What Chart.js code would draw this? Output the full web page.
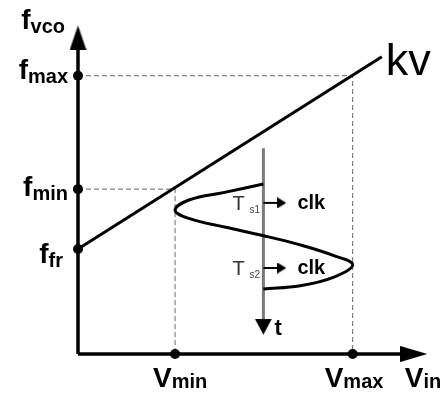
<!DOCTYPE html>
<html>
<head>
<meta charset="utf-8">
<script src="https://cdn.jsdelivr.net/npm/chart.js@4.4.1/dist/chart.umd.min.js"></script>
<style>
  html, body { margin: 0; padding: 0; background: #fff; }
  #wrap { width: 442px; height: 398px; }
</style>
</head>
<body>
<div id="wrap"><canvas id="vco"></canvas></div>
<script>
// frequency axis marks (f_vco, arbitrary units)
const fNames = ['max', 'min', 'fr'];
const fValues = [2.65, 1.57, 1.0];

// input voltage axis marks
const vNames = ['min', 'max'];
const vValues = [1.0, 2.83];

// tuning line, start and end
const kvV = [0, 3.13];
const kvF = [1.0, 2.83];

// input swing over one period: v against time
const swingT = [0, 0.08, 0.15, 0.25, 0.33, 0.41, 0.49, 0.58, 0.68, 0.77, 0.89, 0.97, 1.0];
const swingV = [1.91, 1.51, 1.15, 1.0, 1.15, 1.51, 1.90, 2.29, 2.63, 2.83, 2.63, 2.29, 1.91];

// sampling instants on the time axis
const sampleNames = ['s1', 's2'];
const sampleT = [0.18, 0.80];

// axis ends (centre of each arrow head)
const fAxisTop = 3.01;
const vAxisEnd = 3.46;
const tAxisV = 1.91;
const tAxisStart = -0.34;
const tAxisEnd = 1.36;
const clkArrowEnd = 2.10;

function arrowHead(w, h) {
  const c = document.createElement('canvas');
  c.width = w;
  c.height = h;
  const g = c.getContext('2d');
  g.fillStyle = '#000';
  g.beginPath();
  g.moveTo(w / 2, 0);
  g.lineTo(w, h);
  g.lineTo(0, h);
  g.closePath();
  g.fill();
  return c;
}

const upArrow = arrowHead(17, 25);
const rightArrow = arrowHead(16, 27);
const downArrow = arrowHead(17, 16);
const clkArrow = arrowHead(11, 9);

const lastPoint = (ctx) => (ctx.dataIndex === 1 ? 1 : 0);

function path(data, extra) {
  return Object.assign({
    data: data,
    showLine: true,
    pointRadius: 0,
    borderColor: '#000',
    borderWidth: 3,
    fill: false,
    clip: false
  }, extra);
}

const datasets = [];

// dots on the axes
datasets.push({
  data: fValues.map((f) => ({ x: 0, y: f })),
  pointRadius: 5,
  pointBackgroundColor: '#000',
  pointBorderWidth: 0,
  clip: false
});
datasets.push({
  data: vValues.map((v) => ({ x: v, y: 0 })),
  pointRadius: 5,
  pointBackgroundColor: '#000',
  pointBorderWidth: 0,
  clip: false
});

// kv line
datasets.push(path(kvV.map((v, i) => ({ x: v, y: kvF[i] })), { borderWidth: 3 }));

// input swing
datasets.push(path(swingV.map((v, i) => ({ x: v, y: swingT[i] })), {
  yAxisID: 't',
  tension: 0.4,
  borderWidth: 3
}));

// clock arrows at the sampling instants
sampleT.forEach((t) => {
  datasets.push(path([{ x: tAxisV, y: t }, { x: clkArrowEnd, y: t }], {
    yAxisID: 't',
    borderWidth: 2,
    pointRadius: lastPoint,
    pointStyle: clkArrow,
    pointRotation: 90
  }));
});

// time axis
datasets.push(path([{ x: tAxisV, y: tAxisStart }, { x: tAxisV, y: tAxisEnd }], {
  yAxisID: 't',
  borderColor: '#7a7a7a',
  borderWidth: 3,
  pointRadius: lastPoint,
  pointStyle: downArrow,
  pointRotation: 180
}));

// f and V axes
datasets.push(path([{ x: 0, y: 0 }, { x: 0, y: fAxisTop }], {
  borderWidth: 3.5,
  pointRadius: lastPoint,
  pointStyle: upArrow
}));
datasets.push(path([{ x: 0, y: 0 }, { x: vAxisEnd, y: 0 }], {
  borderWidth: 3.5,
  pointRadius: lastPoint,
  pointStyle: rightArrow,
  pointRotation: 90
}));

// dashed guides: f_max <-> V_max, f_min <-> V_min
[[0, 1], [1, 0]].forEach(([fi, vi]) => {
  datasets.push(path([
    { x: 0, y: fValues[fi] },
    { x: vValues[vi], y: fValues[fi] },
    { x: vValues[vi], y: 0 }
  ], {
    borderColor: '#666',
    borderWidth: 1,
    borderDash: [5, 3],
    borderJoinStyle: 'miter'
  }));
});

const FONT = '"Liberation Sans", Arial, sans-serif';

function subLabel(ctx, main, sub, x, y, o) {
  ctx.font = o.mainFont;
  const mw = ctx.measureText(main).width;
  ctx.font = o.subFont;
  const sw = ctx.measureText(sub).width;
  const gap = o.gap || 0;
  const left = o.align === 'right' ? x - (mw + gap + sw) : x;
  ctx.textAlign = 'left';
  ctx.textBaseline = 'alphabetic';
  ctx.fillStyle = o.color || '#000';
  ctx.font = o.mainFont;
  ctx.fillText(main, left, y);
  ctx.fillStyle = o.subColor || o.color || '#000';
  ctx.font = o.subFont;
  ctx.fillText(sub, left + mw + gap, y + (o.drop || 0));
}

const labelPlugin = {
  id: 'diagramLabels',
  afterDatasetsDraw(chart) {
    const { ctx } = chart;
    const { x, y, t } = chart.scales;
    const big = { mainFont: 'bold 28px ' + FONT, subFont: 'bold 20px ' + FONT };

    ctx.save();

    // frequency labels
    subLabel(ctx, 'f', 'vco', x.getPixelForValue(0) - 13, y.getPixelForValue(fAxisTop) - 9,
      Object.assign({ align: 'right', drop: 4 }, big));
    const fDx = [-10, -10, -15];
    const fDy = [3, 7, 14];
    fNames.forEach((name, i) => {
      subLabel(ctx, 'f', name, x.getPixelForValue(0) + fDx[i], y.getPixelForValue(fValues[i]) + fDy[i],
        Object.assign({ align: 'right', drop: 4 }, big));
    });

    // voltage labels
    const vDx = [-22, -28];
    vNames.forEach((name, i) => {
      subLabel(ctx, 'V', name, x.getPixelForValue(vValues[i]) + vDx[i], y.getPixelForValue(0) + 33,
        Object.assign({ align: 'left', drop: 1 }, big));
    });
    subLabel(ctx, 'V', 'in', x.getPixelForValue(vAxisEnd) - 9, y.getPixelForValue(0) + 33,
      Object.assign({ align: 'left', drop: 1 }, big));

    // kv
    ctx.fillStyle = '#000';
    ctx.font = '45px ' + FONT;
    ctx.textAlign = 'left';
    ctx.textBaseline = 'alphabetic';
    ctx.fillText('kv', x.getPixelForValue(kvV[1]) + 4, y.getPixelForValue(kvF[1]) + 18);

    // sampling instants
    const ax = x.getPixelForValue(tAxisV);
    sampleNames.forEach((name, i) => {
      const py = t.getPixelForValue(sampleT[i]);
      subLabel(ctx, 'T', name, ax - 31, py + 7, {
        align: 'left', mainFont: '20px ' + FONT, subFont: '10px ' + FONT,
        gap: 5, drop: 3, color: '#333', subColor: '#444'
      });
      ctx.fillStyle = '#000';
      ctx.font = 'bold 20px ' + FONT;
      ctx.fillText('clk', ax + 34, py + 6);
    });

    // time axis name
    ctx.fillStyle = '#000';
    ctx.font = 'bold 22px ' + FONT;
    ctx.fillText('t', ax + 11, t.getPixelForValue(tAxisEnd) + 8);

    ctx.restore();
  }
};

new Chart(document.getElementById('vco'), {
  type: 'scatter',
  data: { datasets: datasets },
  options: {
    responsive: true,
    maintainAspectRatio: false,
    animation: false,
    events: [],
    // fixed plot box: left 78, top 10, right 432, bottom 354
    layout: { padding: { left: 78, right: 10, top: 10, bottom: 44 } },
    plugins: {
      legend: { display: false },
      tooltip: { enabled: false }
    },
    scales: {
      x: { type: 'linear', display: false, min: 0, max: 3.647 },
      y: { type: 'linear', display: false, min: 0, max: 3.276 },
      t: { type: 'linear', display: false, min: -1.657, max: 1.619, reverse: true }
    }
  },
  plugins: [labelPlugin]
});
</script>
</body>
</html>
